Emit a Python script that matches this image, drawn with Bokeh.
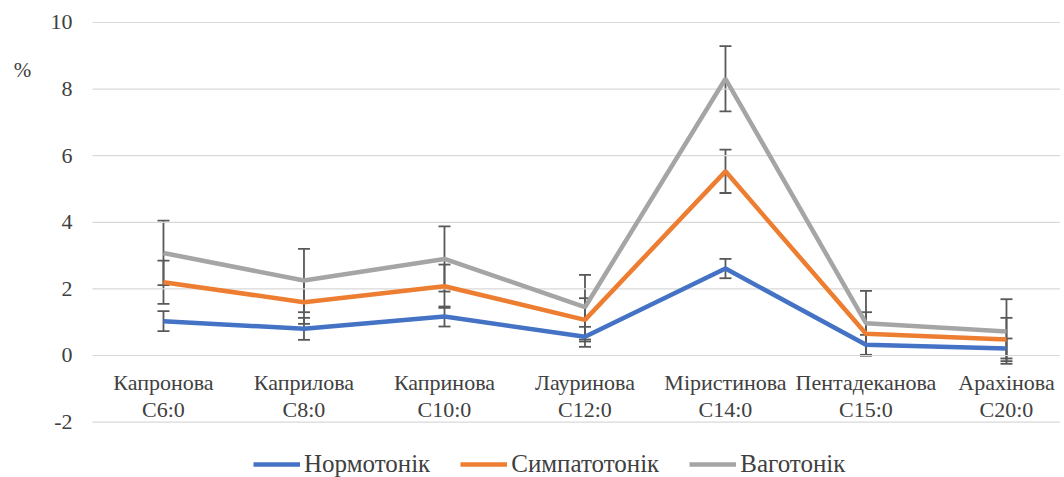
from bokeh.plotting import figure
from bokeh.models import (ColumnDataSource, Range1d, Whisker, TeeHead,
                          Legend, LegendItem)
from bokeh.core.properties import value
from bokeh.embed import file_html
from bokeh.resources import INLINE

categories = ["Капронова\nC6:0", "Каприлова\nC8:0", "Капринова\nC10:0", "Лауринова\nC12:0",
              "Міристинова\nC14:0", "Пентадеканова\nC15:0", "Арахінова\nC20:0"]
series_names = ["Нормотонік", "Симпатотонік", "Ваготонік"]
normo = [1.03, 0.80, 1.17, 0.56, 2.61, 0.32, 0.21]
sympato = [2.20, 1.60, 2.08, 1.07, 5.53, 0.65, 0.48]
vago = [3.08, 2.25, 2.90, 1.45, 8.31, 0.97, 0.72]
normo_err = [0.30, 0.33, 0.30, 0.30, 0.29, 0.30, 0.30]
sympato_err = [0.65, 0.65, 0.65, 0.65, 0.65, 0.65, 0.65]
vago_err = [0.97, 0.95, 0.98, 0.97, 0.98, 0.97, 0.97]
y_ticks = [-2, 0, 2, 4, 6, 8, 10]
y_tick_labels = ["-2", "0", "2", "4", "6", "8", "10"]
unit_label = "%"
colors = ["#4472C4", "#ED7D31", "#A5A5A5"]

FONT = "Liberation Serif"
TXT = "#404040"

xs = list(range(len(categories)))
X_LEFT, X_RIGHT = -0.505, 6.38   # plot-area extent in category units

p = figure(width=1064, height=477, output_backend="svg", toolbar_location=None,
           x_range=Range1d(-1.160, 6.413), y_range=Range1d(-3.664, 10.66),
           min_border=0)
p.outline_line_color = None
p.axis.visible = False
p.grid.visible = False

# horizontal gridlines of the plot area
grid_src = ColumnDataSource(dict(y=y_ticks, x0=[X_LEFT] * len(y_ticks), x1=[X_RIGHT] * len(y_ticks)))
p.segment(x0="x0", x1="x1", y0="y", y1="y", source=grid_src, line_color="#D9D9D9", line_width=1.2)

# y tick labels
tick_src = ColumnDataSource(dict(x=[X_LEFT] * len(y_ticks), y=y_ticks, t=y_tick_labels))
p.text(x="x", y="y", text="t", source=tick_src, text_align="right", text_baseline="middle",
       x_offset=-20, text_font=value(FONT), text_font_size="22px", text_color=TXT)

# unit label
p.text(x=[X_LEFT], y=[8.56], text=[unit_label], text_align="center", text_baseline="middle",
       x_offset=-70, text_font=value(FONT), text_font_size="21px", text_color=TXT)

# category labels along the zero line
lab_src = ColumnDataSource(dict(x=xs, y=[0] * len(xs), t=categories))
p.text(x="x", y="y", text="t", source=lab_src, text_align="center", text_baseline="top",
       y_offset=15, text_font=value(FONT), text_font_size="22px", text_color=TXT,
       text_line_height=1.05)

items = []
for name, vals, errs, col in zip(series_names, [normo, sympato, vago],
                                 [normo_err, sympato_err, vago_err], colors):
    src = ColumnDataSource(dict(x=xs, y=vals,
                                lo=[v - e for v, e in zip(vals, errs)],
                                hi=[v + e for v, e in zip(vals, errs)]))
    r = p.line("x", "y", source=src, line_color=col, line_width=4.5)
    w = Whisker(base="x", upper="hi", lower="lo", source=src, dimension="height",
                line_color="#595959", line_width=1.8,
                upper_head=TeeHead(size=12, line_color="#595959", line_width=1.8),
                lower_head=TeeHead(size=12, line_color="#595959", line_width=1.8))
    p.add_layout(w)
    items.append(LegendItem(label=name, renderers=[r]))

legend = Legend(items=items, orientation="horizontal", location=(253, -1),
                label_text_font=FONT, label_text_font_size="25px", label_text_color=TXT,
                glyph_width=47, glyph_height=20, label_height=20, label_standoff=4, spacing=30,
                padding=0, margin=0, border_line_color=None, background_fill_alpha=0)
p.add_layout(legend)

open("out.html", "w").write(file_html(p, INLINE))
